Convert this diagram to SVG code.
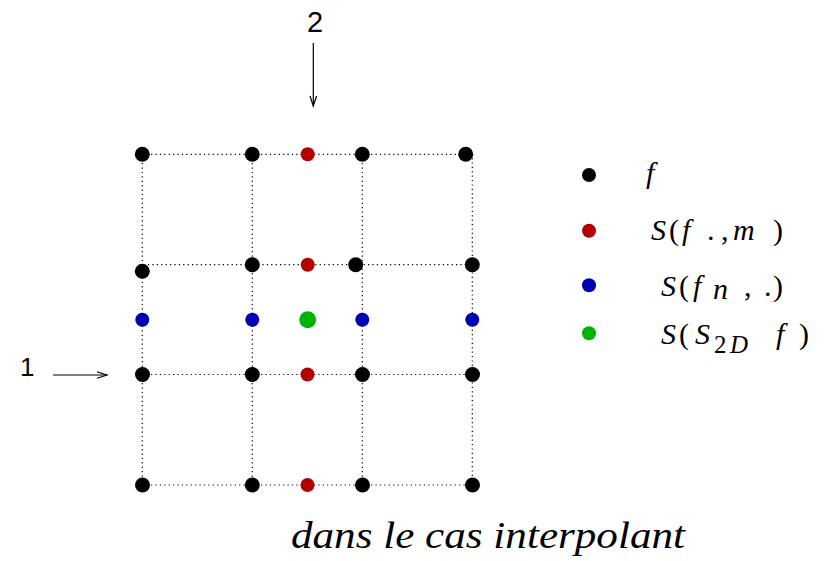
<svg xmlns="http://www.w3.org/2000/svg" width="827" height="561" viewBox="0 0 827 561">
<defs>
<style>
.grid{stroke:#000;stroke-width:1.2;stroke-dasharray:1.2 3.2;fill:none}
.k{fill:#000}.r{fill:#b30000}.b{fill:#0000b3}.g{fill:#00b300}
.arr{stroke:#000;stroke-width:1.2;fill:none}
.num{font-family:"Liberation Sans",Arial,sans-serif;fill:#000}
.m{font-family:"Liberation Serif","Times New Roman",serif;font-size:30px;fill:#000}
.i{font-style:italic}
.sub{font-size:25px}
.title{font-family:"Liberation Serif","Times New Roman",serif;font-style:italic;font-size:38px;fill:#000}
</style>
</defs>
<rect width="827" height="561" fill="#fff"/>
<g id="connectors">
<path class="grid" d="M142.3 154.3H466M148 264.7H472.3M142.3 374.5H472.3M142.3 485H472.3"/>
<path class="grid" d="M142.3 154.3V485M252.3 154.3V485M362.3 154.3V485M472.3 158V485"/>
<g id="arrow2"><path class="arr" d="M313.3 43V106"/><path class="arr" d="M310 96L313.3 106L316.6 96"/></g>
<g id="arrow1"><path class="arr" d="M53 375H107"/><path class="arr" d="M97 371.7L107 375L97 378.3"/></g>
</g>
<g id="labels">
<text class="num" x="307" y="32" font-size="29">2</text>
<text class="num" x="20" y="376" font-size="26">1</text>
</g>
<g id="grid-points">
<g id="row1">
<circle class="k" cx="142.3" cy="154.3" r="7.5"/><circle class="k" cx="252.3" cy="154.3" r="7.5"/>
<circle class="r" cx="307.7" cy="154.3" r="7"/><circle class="k" cx="362.3" cy="154.3" r="7.5"/>
<circle class="k" cx="465.7" cy="154.3" r="7.5"/>
</g>
<g id="row2">
<circle class="k" cx="142.3" cy="271.3" r="7.5"/><circle class="k" cx="252.3" cy="264.7" r="7.5"/>
<circle class="r" cx="307.7" cy="264.7" r="7"/><circle class="k" cx="355.7" cy="264.7" r="7.5"/>
<circle class="k" cx="472.3" cy="264.7" r="7.5"/>
</g>
<g id="row3">
<circle class="b" cx="142.3" cy="319.7" r="7"/><circle class="b" cx="252.3" cy="319.7" r="7"/>
<circle class="g" cx="307.7" cy="319.7" r="8.5"/><circle class="b" cx="362.3" cy="319.7" r="7"/>
<circle class="b" cx="472.3" cy="319.7" r="7"/>
</g>
<g id="row4">
<circle class="k" cx="142.5" cy="374.5" r="7.5"/><circle class="k" cx="252.3" cy="374.5" r="7.5"/>
<circle class="r" cx="307.5" cy="374.5" r="7"/><circle class="k" cx="362.5" cy="374.5" r="7.5"/>
<circle class="k" cx="472.5" cy="374.5" r="7.5"/>
</g>
<g id="row5">
<circle class="k" cx="142.5" cy="485" r="7.5"/><circle class="k" cx="252.3" cy="485" r="7.5"/>
<circle class="r" cx="307.5" cy="485" r="7"/><circle class="k" cx="362.5" cy="485" r="7.5"/>
<circle class="k" cx="472.5" cy="485" r="7.5"/>
</g>
</g>
<g id="legend">
<g id="leg-f"><circle class="k" cx="589" cy="175" r="7"/>
<text class="m i" x="646" y="183">f</text></g>
<g id="leg-fm"><circle class="r" cx="589" cy="230.7" r="7"/>
<text class="m"><tspan class="i" x="651" y="240">S</tspan><tspan x="669" y="240">(</tspan><tspan class="i" x="682" y="240">f</tspan><tspan x="707" y="240">.</tspan><tspan x="721" y="240">,</tspan><tspan class="i" x="733" y="240">m</tspan><tspan x="773" y="240">)</tspan></text></g>
<g id="leg-fn"><circle class="b" cx="589" cy="285.3" r="7"/>
<text class="m"><tspan class="i" x="661" y="296">S</tspan><tspan x="679" y="296">(</tspan><tspan class="i" x="693" y="296">f</tspan><tspan class="i" x="713" y="299">n</tspan><tspan x="744" y="296">,</tspan><tspan x="764" y="296">.</tspan><tspan x="773" y="296">)</tspan></text></g>
<g id="leg-s2d"><circle class="g" cx="589" cy="333.3" r="7"/>
<text class="m"><tspan class="i" x="661" y="344">S</tspan><tspan x="679" y="344">(</tspan><tspan class="i" x="695" y="344">S</tspan><tspan class="sub" x="714" y="353">2</tspan><tspan class="i sub" x="730" y="353">D</tspan><tspan class="i" x="776" y="344">f</tspan><tspan x="799" y="344">)</tspan></text></g>
</g>
<text class="title" x="291" y="548" textLength="394" lengthAdjust="spacingAndGlyphs">dans le cas interpolant</text>
</svg>
